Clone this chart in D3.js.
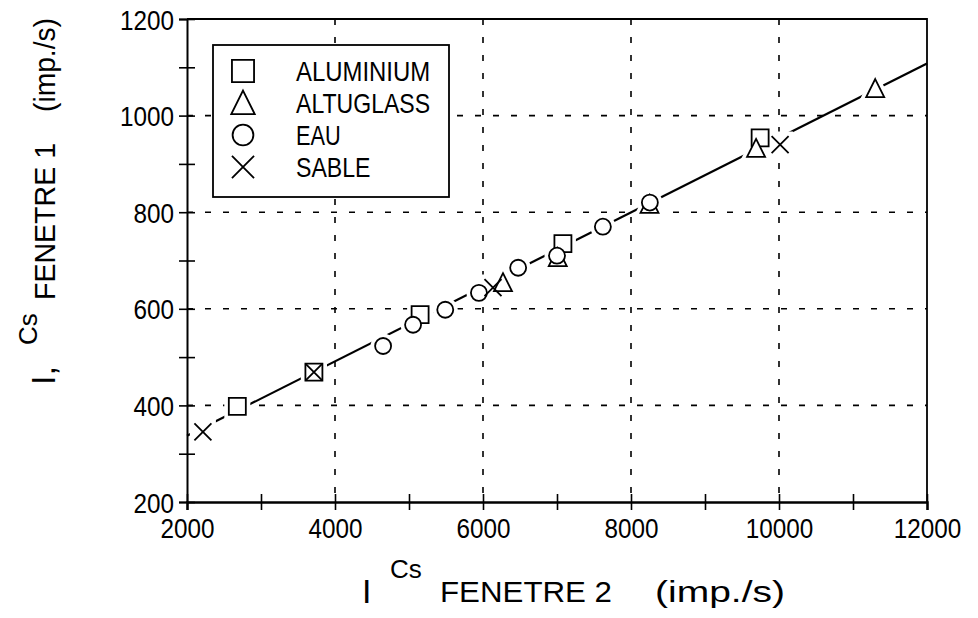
<!DOCTYPE html>
<html>
<head>
<meta charset="utf-8">
<script src="https://cdn.jsdelivr.net/npm/d3@7"></script>
<style>
  body { margin: 0; background: #fff; }
  text { font-family: "Liberation Sans", Arial, sans-serif; fill: #000; }
</style>
</head>
<body>
<script>
// valeurs (I Cs fenetre 2 / fenetre 1, imp./s)
var aluX = [2680, 3715, 5150, 7080, 9745],
    aluY = [398, 469, 588, 735, 954];
var altX = [6270, 7010, 8250, 9690, 11300],
    altY = [654, 706, 816, 932, 1056];
var eauX = [4650, 5055, 5490, 5945, 6475, 7000, 7620, 8255],
    eauY = [523, 567, 598, 633, 685, 710, 770, 820];
var sabX = [2215, 3715, 6135, 10015],
    sabY = [345, 469, 644, 940];

// droite d'ajustement
var fitX = [2000, 12000],
    fitY = [337, 1108];

var xGrid = [4000, 6000, 8000, 10000],
    yGrid = [400, 600, 800, 1000];

var series = [
  {name: "ALUMINIUM", shape: "square",   xs: aluX, ys: aluY},
  {name: "ALTUGLASS", shape: "triangle", xs: altX, ys: altY},
  {name: "EAU",       shape: "circle",   xs: eauX, ys: eauY},
  {name: "SABLE",     shape: "cross",    xs: sabX, ys: sabY}
];

var W = 978, H = 618,
    mLeft = 187, mRight = 927, mTop = 19, mBottom = 502;

var x = d3.scaleLinear().domain([2000, 12000]).range([mLeft, mRight]);
var y = d3.scaleLinear().domain([200, 1200]).range([mBottom, mTop]);

var svg = d3.select("body").append("svg")
    .attr("width", W)
    .attr("height", H);

// formes des symboles (taille en px)
function shapePath(shape) {
  if (shape == "square") return "M-8.5,-8.5H8.5V8.5H-8.5Z";
  if (shape == "triangle") return "M0,-9.5L9,8.5H-9Z";
  if (shape == "circle") return "M8,0A8,8 0 1,1 -8,0A8,8 0 1,1 8,0Z";
  return "M-8.5,-8.5L8.5,8.5M8.5,-8.5L-8.5,8.5";
}

//grille pointillee
svg.append("g").selectAll("line")
  .data(xGrid).enter().append("line")
    .attr("x1", function(d) { return x(d); })
    .attr("x2", function(d) { return x(d); })
    .attr("y1", mTop).attr("y2", mBottom)
    .attr("stroke", "#000").attr("stroke-width", 1.6)
    .attr("stroke-dasharray", "6,12");
svg.append("g").selectAll("line")
  .data(yGrid).enter().append("line")
    .attr("y1", function(d) { return y(d); })
    .attr("y2", function(d) { return y(d); })
    .attr("x1", mLeft).attr("x2", mRight)
    .attr("stroke", "#000").attr("stroke-width", 1.6)
    .attr("stroke-dasharray", "6,12");

// cadre haut et droit
svg.append("path")
  .attr("d", "M" + mLeft + "," + mTop + "H" + mRight + "V" + mBottom)
  .attr("fill", "none").attr("stroke", "#000").attr("stroke-width", 1.8);

// axes
var yAxis = svg.append("g")
  .attr("transform", "translate(" + mLeft + ",0)")
  .call(d3.axisLeft(y).tickValues(d3.range(200, 1201, 100)).tickSize(8)
    .tickFormat(function(d) { return d % 200 == 0 ? d : ""; }));
yAxis.select(".domain").attr("stroke-width", 2);
yAxis.selectAll(".tick line").attr("x1", -8).attr("x2", 8).attr("stroke-width", 1.6);
yAxis.selectAll(".tick text")
  .attr("x", -13).attr("dy", "0.36em")
  .style("font-size", "28px").style("font-family", "Liberation Sans, Arial, sans-serif")
  .attr("textLength", function(d) { return String(d).length * 13.5; })
  .attr("lengthAdjust", "spacingAndGlyphs");

var xAxis = svg.append("g")
  .attr("transform", "translate(0," + mBottom + ")")
  .call(d3.axisBottom(x).tickValues(d3.range(2000, 12001, 1000)).tickSize(8)
    .tickFormat(function(d) { return d % 2000 == 0 ? d : ""; }));
xAxis.select(".domain").attr("stroke-width", 2.4);
xAxis.selectAll(".tick line").attr("y1", -8).attr("y2", 8).attr("stroke-width", 1.6);
xAxis.selectAll(".tick text")
  .attr("y", 36).attr("dy", 0)
  .style("font-size", "28px").style("font-family", "Liberation Sans, Arial, sans-serif")
  .attr("textLength", function(d) { return String(d).length * 13.5; })
  .attr("lengthAdjust", "spacingAndGlyphs");

// droite
var line = d3.line()
  .x(function(d) { return x(d[0]); })
  .y(function(d) { return y(d[1]); });
svg.append("path")
  .attr("d", line(d3.zip(fitX, fitY)))
  .attr("fill", "none").attr("stroke", "#000").attr("stroke-width", 2.2);

// halo blanc puis symboles
var pts = [];
series.forEach(function(s) {
  s.xs.forEach(function(v, i) { pts.push({shape: s.shape, x: v, y: s.ys[i]}); });
});
svg.append("g").selectAll("path")
  .data(pts).enter().append("path")
    .attr("transform", function(d) { return "translate(" + x(d.x) + "," + y(d.y) + ")"; })
    .attr("d", function(d) { return shapePath(d.shape == "cross" ? "square" : d.shape); })
    .attr("fill", "#fff").attr("stroke", "#fff").attr("stroke-width", 9);
svg.append("g").selectAll("path")
  .data(pts).enter().append("path")
    .attr("transform", function(d) { return "translate(" + x(d.x) + "," + y(d.y) + ")"; })
    .attr("d", function(d) { return shapePath(d.shape); })
    .attr("fill", function(d) { return d.shape == "cross" ? "none" : "#fff"; })
    .attr("stroke", "#000").attr("stroke-width", 1.8);

// legende
var leg = svg.append("g");
leg.append("rect")
  .attr("x", 213).attr("y", 45).attr("width", 236).attr("height", 152)
  .attr("fill", "#fff").attr("stroke", "#000").attr("stroke-width", 1.8);
var rows = leg.selectAll("g.row").data(series).enter().append("g")
  .attr("transform", function(d, i) { return "translate(0," + (71 + i * 32) + ")"; });
rows.append("path")
  .attr("transform", "translate(243,0)scale(1.3)")
  .attr("d", function(d) { return shapePath(d.shape); })
  .attr("fill", "none").attr("stroke", "#000").attr("stroke-width", 1.4);
rows.append("text")
  .attr("x", 296).attr("dy", "0.36em")
  .style("font-size", "28px")
  .attr("textLength", function(d) { return d.name.length * 14.9; })
  .attr("lengthAdjust", "spacingAndGlyphs")
  .text(function(d) { return d.name; });

// titres des axes
svg.append("text").attr("x", 362).attr("y", 603).style("font-size", "34px").text("I");
svg.append("text").attr("x", 390).attr("y", 578).style("font-size", "26px").text("Cs");
svg.append("text").attr("x", 440).attr("y", 602).style("font-size", "30px")
  .attr("textLength", 172).attr("lengthAdjust", "spacingAndGlyphs").text("FENETRE 2");
svg.append("text").attr("x", 655).attr("y", 602).style("font-size", "30px")
  .attr("textLength", 130).attr("lengthAdjust", "spacingAndGlyphs").text("(imp./s)");

function vtext(px, py, size, txt, len) {
  var t = svg.append("text")
    .attr("transform", "translate(" + px + "," + py + ")rotate(-90)")
    .style("font-size", size + "px")
    .text(txt);
  if (len) t.attr("textLength", len).attr("lengthAdjust", "spacingAndGlyphs");
}
vtext(55, 385, 34, "I,");
vtext(37, 345, 26, "Cs");
vtext(55, 300, 30, "FENETRE 1", 157);
vtext(55, 112, 30, "(imp./s)", 94);
</script>
</body>
</html>
